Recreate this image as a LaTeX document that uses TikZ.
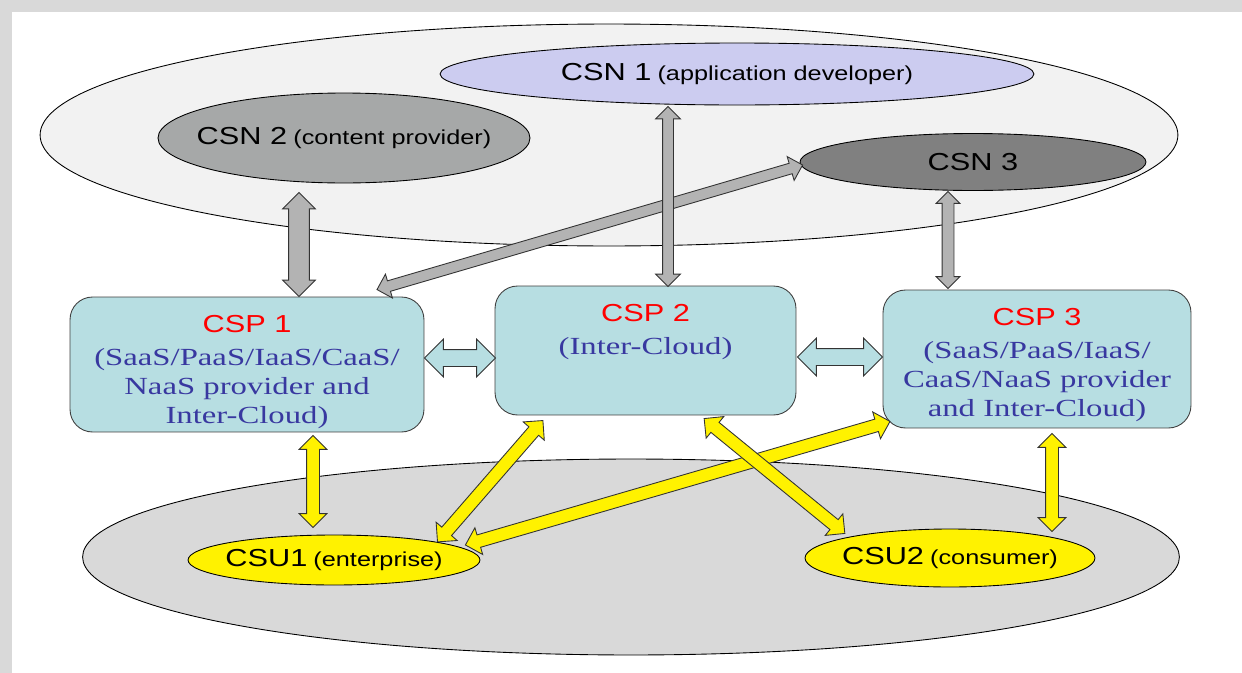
\documentclass[tikz,border=0pt]{standalone}
\usepackage{fontspec}
\setmainfont[FakeStretch=1.25]{Liberation Sans}
\newfontfamily\boxserif[FakeStretch=1.33]{Liberation Serif}
\usetikzlibrary{shapes.geometric,shapes.arrows,calc}
\definecolor{frame}{HTML}{D9D9D9}
\definecolor{zonetop}{HTML}{F2F2F2}
\definecolor{zonebot}{HTML}{D9D9D9}
\definecolor{csnone}{HTML}{CCCCF0}
\definecolor{csntwo}{HTML}{A6A8A8}
\definecolor{csnthree}{HTML}{808080}
\definecolor{cspfill}{HTML}{B7DEE2}
\definecolor{cspred}{HTML}{FF0000}
\definecolor{cspblue}{HTML}{3838A0}
\definecolor{arrgray}{HTML}{B3B3B3}
\definecolor{outline}{HTML}{404040}
\newcommand{\ovaltext}[2]{{\fontsize{14}{16}\selectfont #1} {\fontsize{11.5}{14}\selectfont(#2)}}
\newcommand{\fatlink}[3]{%
  \path let \p1=(#2), \p2=(#3),
    \n1={atan2(\y2-\y1,\x2-\x1)}, \n2={veclen(\x2-\x1,\y2-\y1)} in
    node[#1, rotate=\n1, minimum height=\n2] at ($(\p1)!0.5!(\p2)$) {};
}
\tikzset{
  zone/.style={ellipse, draw=black, line width=0.5pt, inner sep=0pt},
  oval/.style={ellipse, draw=black, line width=0.5pt, inner sep=0pt},
  ovallbl/.style={inner sep=0pt, text=black},
  cspbox/.style={draw=outline, fill=cspfill, rounded corners=0.45cm, line width=0.5pt, inner sep=0pt},
  csptext/.style={anchor=north, yshift=-0.37cm, inner sep=0pt, align=center,
                  font=\boxserif\fontsize{14}{16.5}\selectfont, text=cspblue},
  fatarr/.style n args={3}{double arrow, draw=black!80, line width=0.5pt, fill=#1,
                  inner xsep=0pt, inner ysep=#2, double arrow head extend=#3, minimum width=0pt},
  bigarr/.style={fatarr={arrgray}{0.2cm}{0.12cm}},
  thinarr/.style={fatarr={arrgray}{0.1cm}{0.14cm}},
  midarr/.style={fatarr={arrgray}{0.11cm}{0.12cm}},
  linkarr/.style={fatarr={cspfill}{0.16cm}{0.21cm}},
  userarr/.style={fatarr={yellow}{0.12cm}{0.15cm}}
}
\newcommand{\cspname}[1]{{\normalfont\fontsize{14}{16.5}\selectfont\color{cspred}#1}}
\begin{document}
\begin{tikzpicture}[x=0.02cm,y=-0.02cm]
  \useasboundingbox (0,0) rectangle (1242,673);
  \fill[white] (0,0) rectangle (1242,673);
  \fill[frame] (0,0) rectangle (1242,12);
  \fill[frame] (0,0) rectangle (12,673);

  \node[zone, fill=zonetop, minimum width=22.76cm, minimum height=4.44cm] (provzone) at (609,135) {};
  \node[zone, fill=zonebot, minimum width=21.94cm, minimum height=3.92cm] (userzone) at (631,557) {};

  \node[oval, fill=csnone, minimum width=11.88cm, minimum height=1.24cm,
        label={[ovallbl]center:\ovaltext{CSN 1}{application developer}}] (csn1) at (737,74) {};
  \node[oval, fill=csntwo, minimum width=7.44cm, minimum height=1.8cm,
        label={[ovallbl]center:\ovaltext{CSN 2}{content provider}}] (csn2) at (344,138) {};
  \node[oval, fill=csnthree, minimum width=6.92cm, minimum height=1.14cm,
        label={[ovallbl]center:{\fontsize{14}{16}\selectfont CSN 3}}] (csn3) at (973,162) {};

  \node[cspbox, minimum width=7.08cm, minimum height=2.7cm,
        label={[csptext]north:\cspname{CSP 1}\\[2pt](SaaS/PaaS/IaaS/CaaS/\\NaaS provider and\\Inter-Cloud)}] (csp1) at (247,364.5) {};
  \node[cspbox, minimum width=6.02cm, minimum height=2.58cm,
        label={[csptext]north:\cspname{CSP 2}\\[2pt](Inter-Cloud)}] (csp2) at (645.5,350.5) {};
  \node[cspbox, minimum width=6.16cm, minimum height=2.76cm,
        label={[csptext]north:\cspname{CSP 3}\\[2pt](SaaS/PaaS/IaaS/\\CaaS/NaaS provider\\and Inter-Cloud)}] (csp3) at (1037,359) {};

  \node[oval, fill=yellow, minimum width=5.84cm, minimum height=1cm,
        label={[ovallbl]center:\ovaltext{CSU1}{enterprise}}] (csu1) at (334,560) {};
  \node[oval, fill=yellow, minimum width=5.8cm, minimum height=1.16cm,
        label={[ovallbl]center:\ovaltext{CSU2}{consumer}}] (csu2) at (950,558) {};

  \fatlink{bigarr}{$(csn2.south)+(-45,9)$}{$(csp1.north)+(52,0)$}
  \fatlink{thinarr}{$(csp1.north)+(130,-7)$}{$(csn3.west)+(3,3)$}
  \fatlink{thinarr}{$(csn1.south)+(-69,1)$}{$(csp2.north)+(22.5,1)$}
  \fatlink{midarr}{$(csn3.south)+(-25,0.5)$}{$(csp3.north)+(-89,-1)$}

  \fatlink{linkarr}{$(csp1.east)+(0,-6.5)$}{$(csp2.west)+(1,7.5)$}
  \fatlink{linkarr}{$(csp2.east)+(1,6.5)$}{$(csp3.west)+(0,-2)$}

  \fatlink{userarr}{$(csp1.south)+(66,3)$}{$(csu1.north)+(-21,-7)$}
  \fatlink{userarr}{$(csu1.east)+(-43,-18)$}{$(csp2.south)+(-102.5,5)$}
  \fatlink{userarr}{$(csu1.east)+(-15,-15)$}{$(csp3.south)+(-147,-7)$}
  \fatlink{userarr}{$(csp2.south)+(58.5,3)$}{$(csu2.north)+(-105,5)$}
  \fatlink{userarr}{$(csp3.south)+(15,5)$}{$(csu2.north)+(102,3)$}
\end{tikzpicture}
\end{document}
